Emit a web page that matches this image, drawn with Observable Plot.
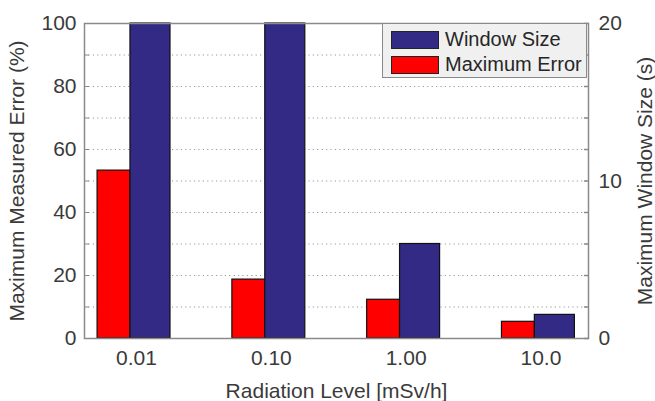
<!DOCTYPE html>
<html>
<head>
<meta charset="utf-8">
<script src="https://cdn.jsdelivr.net/npm/d3@7"></script>
<script src="https://cdn.jsdelivr.net/npm/@observablehq/plot@0.6"></script>
<style>
  html, body { margin: 0; padding: 0; background: #fff; }
  #wrap { position: relative; width: 655px; height: 401px; font-family: "Liberation Sans", Arial, Helvetica, sans-serif; }
  #legend { position: absolute; left: 382px; top: 23px; width: 205px; height: 55px; background: #f0f0f0; border: 1px solid #8a8a8a; box-sizing: border-box; }
  .item { position: absolute; left: 8px; height: 19px; display: flex; align-items: center; }
  .sw { width: 48px; height: 18px; border: 1px solid #222; box-sizing: border-box; margin-right: 6px; }
  .lt { font-size: 20px; color: #262626; white-space: nowrap; }
</style>
</head>
<body>
<div id="wrap"></div>
<script>
const categories = ["0.01", "0.10", "1.00", "10.0"];
const maxError = [53.3, 18.7, 12.3, 5.3];      // left axis (%)
const windowSize = [20, 20, 6.0, 1.5];         // right axis (s)
const leftTicks = [0, 20, 40, 60, 80, 100];
const rightTicks = [0, 10, 20];
const seriesNames = ["Window Size", "Maximum Error"];
const colors = ["#332a85", "#ff0000"];

const rows = categories.map((c, i) => ({i, cat: c, err: maxError[i], win: windowSize[i]}));
const ratio = 100 / 20; // right axis 0..20 s mapped to left 0..100 %
const minor = d3.range(0, 101, 10);
const textColor = "#3a3a3a";

const plot = Plot.plot({
  width: 655,
  height: 401,
  marginLeft: 84,
  marginRight: 67,
  marginTop: 23,
  marginBottom: 63,
  style: {fontFamily: '"Liberation Sans", Arial, Helvetica, sans-serif', fontSize: "22px", color: textColor, background: "#fff"},
  x: {type: "linear", domain: [-0.386, 3.353]},
  y: {domain: [0, 100]},
  marks: [
    Plot.gridY(minor, {stroke: "#9a9a9a", strokeOpacity: 1, strokeDasharray: "1.2,3.2", strokeWidth: 1}),
    Plot.rectY(rows, {x1: d => d.i - 0.289, x2: d => d.i - 0.045, y1: 0, y2: "err", fill: colors[1], stroke: "#111", strokeWidth: 1.2}),
    Plot.rectY(rows, {x1: d => d.i - 0.045, x2: d => d.i + 0.252, y1: 0, y2: d => d.win * ratio, fill: colors[0], stroke: "#111", strokeWidth: 1.2}),
    Plot.axisY(minor, {anchor: "left", tickSize: -5, tickFormat: () => "", label: null, stroke: "#8a8a8a"}),
    Plot.axisY(minor, {anchor: "right", tickSize: -5, tickFormat: () => "", label: null, stroke: "#8a8a8a", strokeWidth: 1.5}),
    Plot.axisY(leftTicks, {anchor: "left", tickSize: 0, tickPadding: 8, fontSize: 21, fill: textColor,
      label: "Maximum Measured Error (%)", labelAnchor: "center", labelArrow: "none", labelOffset: 75}),
    Plot.axisY(rightTicks.map(v => v * ratio), {anchor: "right", tickSize: 0, tickPadding: 10, fontSize: 21, fill: textColor,
      tickFormat: d => String(d / ratio),
      label: "Maximum Window Size (s)", labelAnchor: "center", labelArrow: "none", labelOffset: 63}),
    Plot.axisX(categories.map((c, i) => i), {anchor: "bottom", tickSize: 0, tickPadding: 12, fontSize: 21, fill: textColor,
      tickFormat: i => categories[i],
      label: "Radiation Level [mSv/h]", labelAnchor: "center", labelArrow: "none", labelOffset: 59}),
    Plot.frame({stroke: "#8a8a8a", strokeWidth: 1.5})
  ]
});

const wrap = document.getElementById("wrap");
wrap.appendChild(plot);

const legend = document.createElement("div");
legend.id = "legend";
seriesNames.forEach((name, k) => {
  const it = document.createElement("div");
  it.className = "item";
  it.style.top = (k === 0 ? 6 : 31) + "px";
  const sw = document.createElement("div");
  sw.className = "sw";
  sw.style.background = colors[k];
  const t = document.createElement("span");
  t.className = "lt";
  t.textContent = name;
  it.appendChild(sw);
  it.appendChild(t);
  legend.appendChild(it);
});
wrap.appendChild(legend);
</script>
</body>
</html>
